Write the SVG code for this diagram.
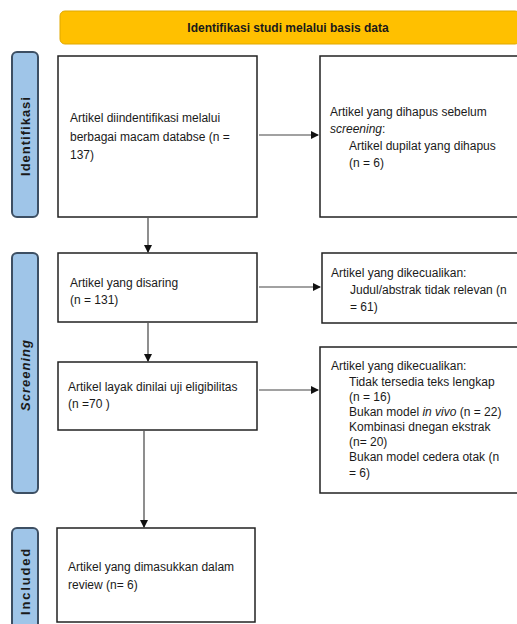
<svg xmlns="http://www.w3.org/2000/svg" width="517" height="624" viewBox="0 0 517 624">
<defs>
<marker id="ah" markerWidth="8" markerHeight="8" refX="7" refY="4" orient="auto" markerUnits="userSpaceOnUse">
<path d="M0,0 L8,4 L0,8 Z" fill="#111"/>
</marker>
<style>
.box{fill:#fff;stroke:#222;stroke-width:1.5}
.side{fill:#9fc5e8;stroke:#3d4f63;stroke-width:2}
.t{font-family:"Liberation Sans",Arial,sans-serif;font-size:12px;fill:#1a1a1a}
.side-t{font-family:"Liberation Sans",Arial,sans-serif;font-size:13px;font-weight:bold;fill:#1a1a1a;letter-spacing:1px}
.conn{stroke:#444;stroke-width:1.2;fill:none;marker-end:url(#ah)}
</style>
</defs>
<rect width="517" height="624" fill="#fff"/>
<g id="header">
<rect x="60" y="11" width="460" height="33" rx="5" fill="#ffc000" stroke="#e0a800" stroke-width="1"/>
<text x="288" y="32" text-anchor="middle" class="t" style="font-weight:bold;font-size:12px">Identifikasi studi melalui basis data</text>
</g>
<g id="lbl-identifikasi">
<rect x="12" y="52" width="26" height="165" rx="5" class="side"/>
<text class="side-t" transform="translate(30,136) rotate(-90)" text-anchor="middle">Identifikasi</text>
</g>
<g id="lbl-screening">
<rect x="12" y="253" width="26" height="240" rx="5" class="side"/>
<text class="side-t" transform="translate(30,375) rotate(-90)" text-anchor="middle" style="font-style:italic">Screening</text>
</g>
<g id="lbl-included">
<rect x="12" y="528" width="26" height="110" rx="5" class="side"/>
<text class="side-t" transform="translate(30,581) rotate(-90)" text-anchor="middle" style="letter-spacing:1.8px">Included</text>
</g>
<g id="n1">
<rect x="58" y="56" width="199" height="161" class="box"/>
<text class="t" x="70" y="122">Artikel diindentifikasi melalui</text>
<text class="t" x="70" y="141">berbagai macam databse (n =</text>
<text class="t" x="70" y="159">137)</text>
</g>
<g id="n2">
<rect x="320" y="56" width="200" height="161" class="box"/>
<text class="t" x="330" y="116">Artikel yang dihapus sebelum</text>
<text class="t" x="330" y="133"><tspan font-style="italic">screening</tspan>:</text>
<text class="t" x="349" y="150">Artikel dupilat yang dihapus</text>
<text class="t" x="349" y="167">(n = 6)</text>
</g>
<g id="n3">
<rect x="58" y="253" width="199" height="69" class="box"/>
<text class="t" x="70" y="287">Artikel yang disaring</text>
<text class="t" x="70" y="304">(n = 131)</text>
</g>
<g id="n4">
<rect x="322" y="253" width="198" height="70" class="box"/>
<text class="t" x="331" y="277">Artikel yang dikecualikan:</text>
<text class="t" x="350" y="294">Judul/abstrak tidak relevan (n</text>
<text class="t" x="350" y="311">= 61)</text>
</g>
<g id="n5">
<rect x="58" y="362" width="199" height="68" class="box"/>
<text class="t" x="68" y="391">Artikel layak dinilai uji eligibilitas</text>
<text class="t" x="68" y="408">(n =70 )</text>
</g>
<g id="n6">
<rect x="320" y="347" width="200" height="146" class="box"/>
<text class="t" x="331" y="370">Artikel yang dikecualikan:</text>
<text class="t" x="349" y="386">Tidak tersedia teks lengkap</text>
<text class="t" x="349" y="401">(n = 16)</text>
<text class="t" x="349" y="416">Bukan model <tspan font-style="italic">in vivo</tspan> (n = 22)</text>
<text class="t" x="349" y="431">Kombinasi dnegan ekstrak</text>
<text class="t" x="349" y="446">(n= 20)</text>
<text class="t" x="349" y="461">Bukan model cedera otak (n</text>
<text class="t" x="349" y="477">= 6)</text>
</g>
<g id="n7">
<rect x="57" y="528" width="198" height="94" class="box"/>
<text class="t" x="68" y="571">Artikel yang dimasukkan dalam</text>
<text class="t" x="68" y="589">review (n= 6)</text>
</g>
<g id="connectors">
<line x1="259" y1="135" x2="318" y2="135" class="conn"/>
<line x1="148" y1="218" x2="148" y2="252" class="conn"/>
<line x1="259" y1="287" x2="320" y2="287" class="conn"/>
<line x1="148" y1="323" x2="148" y2="361" class="conn"/>
<line x1="259" y1="390" x2="318" y2="390" class="conn"/>
<line x1="144" y1="431" x2="144" y2="527" class="conn"/>
</g>
</svg>
